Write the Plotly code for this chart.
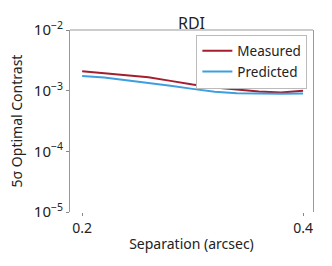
import plotly.graph_objects as go

separation = [0.20, 0.22, 0.24, 0.26, 0.28, 0.30, 0.32, 0.34, 0.36, 0.38, 0.40]
measured = [2.08e-3, 1.93e-3, 1.75e-3, 1.67e-3, 1.45e-3, 1.26e-3, 1.13e-3, 1.05e-3, 0.97e-3, 0.93e-3, 1.00e-3]
predicted = [1.75e-3, 1.65e-3, 1.48e-3, 1.35e-3, 1.20e-3, 1.07e-3, 0.96e-3, 0.91e-3, 0.89e-3, 0.89e-3, 0.90e-3]
y_tickvals = [1e-5, 1e-4, 1e-3, 1e-2]
y_ticktext = ["10<sup>−5</sup>", "10<sup>−4</sup>", "10<sup>−3</sup>", "10<sup>−2</sup>"]
x_tickvals = [0.2, 0.4]
x_ticktext = ["0.2", "0.4"]

FONT = "Noto Sans"
fig = go.Figure()
fig.add_trace(go.Scatter(x=separation, y=measured, mode="lines", name="Measured",
                         line=dict(color="#a31f2e", width=2)))
fig.add_trace(go.Scatter(x=separation, y=predicted, mode="lines", name="Predicted",
                         line=dict(color="#3d9fe0", width=2)))

fig.update_layout(
    width=332, height=266,
    margin=dict(l=70, r=19, t=30, b=54),
    paper_bgcolor="white", plot_bgcolor="white",
    font=dict(family=FONT, size=13, color="#222"),
    title=dict(text="RDI", x=0.5, xref="paper", y=1, yref="paper", yanchor="bottom",
               pad=dict(b=1), font=dict(size=16, family=FONT, color="#222")),
    legend=dict(x=0.52, y=0.975, xanchor="left", yanchor="top",
                bgcolor="white", bordercolor="#bbbbbb", borderwidth=1,
                font=dict(size=13.5, family=FONT), itemwidth=30,
                tracegroupgap=0),
    showlegend=True,
)
fig.update_xaxes(range=[0.189, 0.409], tickvals=x_tickvals, ticktext=x_ticktext,
                 showgrid=False, zeroline=False, showline=False,
                 ticks="outside", ticklen=3, tickcolor="#888",
                 tickfont=dict(size=14, family=FONT),
                 title=dict(text="Separation (arcsec)", font=dict(size=14, family=FONT), standoff=3))
fig.update_yaxes(type="log", range=[-5, -2], tickvals=y_tickvals, ticktext=y_ticktext,
                 showgrid=False, zeroline=False, showline=True, mirror=True,
                 linecolor="#999", linewidth=1,
                 ticks="outside", ticklen=3, tickcolor="#888",
                 tickfont=dict(size=15, family=FONT),
                 title=dict(text="5σ Optimal Contrast", font=dict(size=14, family=FONT), standoff=7))
fig.add_shape(type="line", xref="paper", yref="paper", x0=0, x1=1, y0=1, y1=1,
              line=dict(color="#999", width=1))

fig.write_html("out.html", config={"displayModeBar": False},
               post_script="document.body.style.margin='0';document.body.style.padding='0';")
